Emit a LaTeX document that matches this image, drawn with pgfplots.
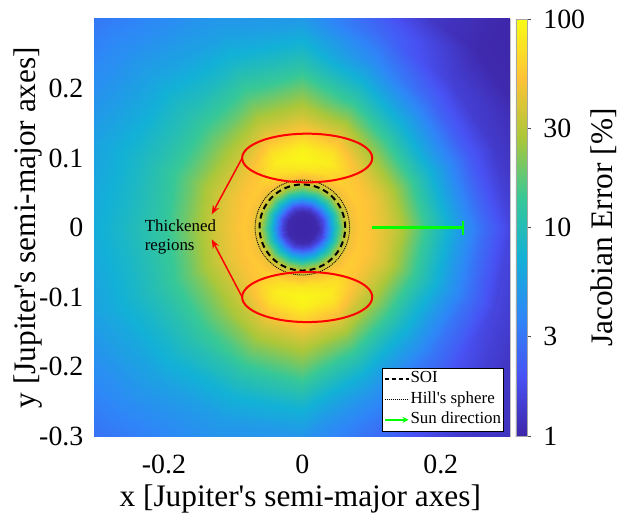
\documentclass[border=0pt]{standalone}
\usepackage{fontspec}
\setmainfont{Liberation Serif}
\usepackage{pgfplots}
\pgfplotsset{compat=1.18}
\usetikzlibrary{arrows.meta}

\pgfplotsset{
  colormap={parula}{
    rgb255=(62,38,168) rgb255=(72,82,244) rgb255=(46,135,247) rgb255=(18,177,214)
    rgb255=(55,200,151) rgb255=(171,199,57) rgb255=(254,195,56) rgb255=(249,251,21)
  }
}
\newcommand{\tickfont}{\fontsize{28}{30}\selectfont}
\newcommand{\labfont}{\fontsize{31.5}{33}\selectfont}
\newcommand{\smallfont}{\fontsize{17}{19}\selectfont}

\begin{document}
\begin{tikzpicture}
\begin{axis}[
  width=416bp, height=418bp, scale only axis,
  xmin=-0.3, xmax=0.3, ymin=-0.3, ymax=0.3,
  enlargelimits=false,
  axis line style={black!25, line width=0.6bp},
  major tick length=0pt,
  xtick={-0.2,0,0.2}, xticklabels={-0.2,0,0.2},
  ytick={-0.3,-0.2,-0.1,0,0.1,0.2}, yticklabels={-0.3,-0.2,-0.1,0,0.1,0.2},
  tick label style={font=\tickfont},
  xticklabel style={yshift=-15bp},
  yticklabel style={xshift=-8bp},
  xlabel={x [Jupiter\textquotesingle s semi-major axes]},
  ylabel={y [Jupiter\textquotesingle s semi-major axes]},
  xlabel style={font=\labfont, at={(axis description cs:0.495,-0.151)}, anchor=center},
  ylabel style={font=\labfont, at={(axis description cs:-0.16,0.5)}, anchor=center, rotate=0},
  colormap name=parula,
  point meta min=0, point meta max=2,
  colorbar,
  colorbar shift/.style={xshift=6bp},
  colorbar style={
    width=11bp,
    at={(parent axis.north east)}, anchor=north west,
    ytick={0,0.47712,1,1.47712,2},
    yticklabels={1,3,10,30,100},
    ytick pos=right,
    tick align=outside,
    major tick length=4bp,
    tick style={black!70},
    axis line style={black!35},
    yticklabel style={font=\tickfont, xshift=9bp},
    ylabel={Jacobian Error [\%]},
    ylabel style={font=\labfont, at={(axis description cs:8.0,0.5)}, anchor=center},
  },
  legend cell align=left,
  legend style={
    at={(axis description cs:1,0)}, anchor=south east, xshift=-6bp, yshift=5bp,
    draw=black, line width=0.6bp, fill=white, font=\smallfont,
    inner xsep=1.5bp, inner ysep=1.5bp, row sep=1.5bp,
    nodes={inner xsep=1bp, inner ysep=1.5bp, text height=12bp, text depth=4bp},
  },
  legend image code/.code={\draw[#1] (0bp,0bp) -- (24bp,0bp);},
]

% error field on a polar grid: angle (deg), radius, error (%)
\addplot[surf, shader=interp, mesh/cols=21, point meta={log10(\thisrow{v})}, forget plot]
  table[x expr={\thisrow{r}*cos(\thisrow{a})}, y expr={\thisrow{r}*sin(\thisrow{a})}, row sep=\\] {
a r v\\
0 0 1\\ 0 0.012 1\\ 0 0.022 1.05\\ 0 0.03 1.6\\ 0 0.038 3.8\\ 0 0.046 8.5\\ 0 0.054 17\\ 0 0.062 30\\ 0 0.07 45\\
0 0.085 55\\ 0 0.1 50\\ 0 0.115 43\\ 0 0.13 36\\ 0 0.15 25\\ 0 0.175 15\\ 0 0.2 9\\ 0 0.23 5\\ 0 0.26 2.8\\ 0 0.3 1.6\\ 0 0.36 1.2\\ 0 0.43 1.0\\
22.5 0 1\\ 22.5 0.012 1\\ 22.5 0.022 1.05\\ 22.5 0.03 1.6\\ 22.5 0.038 3.8\\ 22.5 0.046 8.5\\ 22.5 0.054 17\\ 22.5 0.062 30\\ 22.5 0.07 45\\
22.5 0.085 56\\ 22.5 0.1 52\\ 22.5 0.115 44\\ 22.5 0.13 35\\ 22.5 0.15 23\\ 22.5 0.175 13\\ 22.5 0.2 7.5\\ 22.5 0.23 4\\ 22.5 0.26 2.2\\ 22.5 0.3 1.35\\ 22.5 0.36 1.05\\ 22.5 0.43 1.0\\
45 0 1\\ 45 0.012 1\\ 45 0.022 1.05\\ 45 0.03 1.6\\ 45 0.038 3.8\\ 45 0.046 8.5\\ 45 0.054 17\\ 45 0.062 30\\ 45 0.07 45\\
45 0.085 58\\ 45 0.1 55\\ 45 0.115 45\\ 45 0.13 35\\ 45 0.15 23\\ 45 0.175 13.5\\ 45 0.2 8\\ 45 0.23 4.4\\ 45 0.26 2.5\\ 45 0.3 1.5\\ 45 0.36 1.05\\ 45 0.43 1.0\\
67.5 0 1\\ 67.5 0.012 1\\ 67.5 0.022 1.05\\ 67.5 0.03 1.6\\ 67.5 0.038 3.8\\ 67.5 0.046 8.5\\ 67.5 0.054 17\\ 67.5 0.062 30\\ 67.5 0.07 45\\
67.5 0.085 70\\ 67.5 0.1 85\\ 67.5 0.115 75\\ 67.5 0.13 55\\ 67.5 0.15 35\\ 67.5 0.175 20\\ 67.5 0.2 12\\ 67.5 0.23 7\\ 67.5 0.26 4.2\\ 67.5 0.3 2.6\\ 67.5 0.36 1.5\\ 67.5 0.43 1.1\\
90 0 1\\ 90 0.012 1\\ 90 0.022 1.05\\ 90 0.03 1.6\\ 90 0.038 3.8\\ 90 0.046 8.5\\ 90 0.054 17\\ 90 0.062 30\\ 90 0.07 45\\
90 0.085 80\\ 90 0.1 95\\ 90 0.115 88\\ 90 0.13 65\\ 90 0.15 43\\ 90 0.175 28\\ 90 0.2 19\\ 90 0.23 12\\ 90 0.26 8\\ 90 0.3 5\\ 90 0.36 3.5\\ 90 0.43 2.5\\
112.5 0 1\\ 112.5 0.012 1\\ 112.5 0.022 1.05\\ 112.5 0.03 1.6\\ 112.5 0.038 3.8\\ 112.5 0.046 8.5\\ 112.5 0.054 17\\ 112.5 0.062 30\\ 112.5 0.07 45\\
112.5 0.085 70\\ 112.5 0.1 85\\ 112.5 0.115 75\\ 112.5 0.13 55\\ 112.5 0.15 38\\ 112.5 0.175 25\\ 112.5 0.2 17\\ 112.5 0.23 11.5\\ 112.5 0.26 8\\ 112.5 0.3 5.5\\ 112.5 0.36 4\\ 112.5 0.43 3\\
135 0 1\\ 135 0.012 1\\ 135 0.022 1.05\\ 135 0.03 1.6\\ 135 0.038 3.8\\ 135 0.046 8.5\\ 135 0.054 17\\ 135 0.062 30\\ 135 0.07 45\\
135 0.085 57\\ 135 0.1 52\\ 135 0.115 45\\ 135 0.13 37\\ 135 0.15 28\\ 135 0.175 20\\ 135 0.2 14.5\\ 135 0.23 10.5\\ 135 0.26 8.3\\ 135 0.3 6\\ 135 0.36 4.2\\ 135 0.43 3.0\\
157.5 0 1\\ 157.5 0.012 1\\ 157.5 0.022 1.05\\ 157.5 0.03 1.6\\ 157.5 0.038 3.8\\ 157.5 0.046 8.5\\ 157.5 0.054 17\\ 157.5 0.062 30\\ 157.5 0.07 45\\
157.5 0.085 55\\ 157.5 0.1 49\\ 157.5 0.115 43\\ 157.5 0.13 36\\ 157.5 0.15 27\\ 157.5 0.175 19\\ 157.5 0.2 14\\ 157.5 0.23 10.5\\ 157.5 0.26 8.3\\ 157.5 0.3 6.5\\ 157.5 0.36 4.7\\ 157.5 0.43 3.5\\
180 0 1\\ 180 0.012 1\\ 180 0.022 1.05\\ 180 0.03 1.6\\ 180 0.038 3.8\\ 180 0.046 8.5\\ 180 0.054 17\\ 180 0.062 30\\ 180 0.07 45\\
180 0.085 55\\ 180 0.1 48\\ 180 0.115 42\\ 180 0.13 35\\ 180 0.15 26\\ 180 0.175 18\\ 180 0.2 13\\ 180 0.23 10.5\\ 180 0.26 8.5\\ 180 0.3 6.8\\ 180 0.36 5\\ 180 0.43 3.8\\
202.5 0 1\\ 202.5 0.012 1\\ 202.5 0.022 1.05\\ 202.5 0.03 1.6\\ 202.5 0.038 3.8\\ 202.5 0.046 8.5\\ 202.5 0.054 17\\ 202.5 0.062 30\\ 202.5 0.07 45\\
202.5 0.085 55\\ 202.5 0.1 49\\ 202.5 0.115 43\\ 202.5 0.13 36\\ 202.5 0.15 27\\ 202.5 0.175 19\\ 202.5 0.2 14\\ 202.5 0.23 10.5\\ 202.5 0.26 8.3\\ 202.5 0.3 6.5\\ 202.5 0.36 4.7\\ 202.5 0.43 3.5\\
225 0 1\\ 225 0.012 1\\ 225 0.022 1.05\\ 225 0.03 1.6\\ 225 0.038 3.8\\ 225 0.046 8.5\\ 225 0.054 17\\ 225 0.062 30\\ 225 0.07 45\\
225 0.085 57\\ 225 0.1 52\\ 225 0.115 45\\ 225 0.13 37\\ 225 0.15 28\\ 225 0.175 20\\ 225 0.2 14.5\\ 225 0.23 10.5\\ 225 0.26 8\\ 225 0.3 5.8\\ 225 0.36 4\\ 225 0.43 2.8\\
247.5 0 1\\ 247.5 0.012 1\\ 247.5 0.022 1.05\\ 247.5 0.03 1.6\\ 247.5 0.038 3.8\\ 247.5 0.046 8.5\\ 247.5 0.054 17\\ 247.5 0.062 30\\ 247.5 0.07 45\\
247.5 0.085 70\\ 247.5 0.1 85\\ 247.5 0.115 75\\ 247.5 0.13 55\\ 247.5 0.15 38\\ 247.5 0.175 25\\ 247.5 0.2 17\\ 247.5 0.23 11\\ 247.5 0.26 7.5\\ 247.5 0.3 5.2\\ 247.5 0.36 3.8\\ 247.5 0.43 2.8\\
270 0 1\\ 270 0.012 1\\ 270 0.022 1.05\\ 270 0.03 1.6\\ 270 0.038 3.8\\ 270 0.046 8.5\\ 270 0.054 17\\ 270 0.062 30\\ 270 0.07 45\\
270 0.085 80\\ 270 0.1 95\\ 270 0.115 88\\ 270 0.13 65\\ 270 0.15 43\\ 270 0.175 28\\ 270 0.2 19\\ 270 0.23 12\\ 270 0.26 7.5\\ 270 0.3 4.7\\ 270 0.36 3.2\\ 270 0.43 2.3\\
292.5 0 1\\ 292.5 0.012 1\\ 292.5 0.022 1.05\\ 292.5 0.03 1.6\\ 292.5 0.038 3.8\\ 292.5 0.046 8.5\\ 292.5 0.054 17\\ 292.5 0.062 30\\ 292.5 0.07 45\\
292.5 0.085 70\\ 292.5 0.1 85\\ 292.5 0.115 75\\ 292.5 0.13 55\\ 292.5 0.15 35\\ 292.5 0.175 20\\ 292.5 0.2 12\\ 292.5 0.23 7\\ 292.5 0.26 4.5\\ 292.5 0.3 3\\ 292.5 0.36 1.9\\ 292.5 0.43 1.3\\
315 0 1\\ 315 0.012 1\\ 315 0.022 1.05\\ 315 0.03 1.6\\ 315 0.038 3.8\\ 315 0.046 8.5\\ 315 0.054 17\\ 315 0.062 30\\ 315 0.07 45\\
315 0.085 58\\ 315 0.1 55\\ 315 0.115 45\\ 315 0.13 35\\ 315 0.15 24\\ 315 0.175 14\\ 315 0.2 8.5\\ 315 0.23 5\\ 315 0.26 3.1\\ 315 0.3 2\\ 315 0.36 1.4\\ 315 0.43 1.2\\
337.5 0 1\\ 337.5 0.012 1\\ 337.5 0.022 1.05\\ 337.5 0.03 1.6\\ 337.5 0.038 3.8\\ 337.5 0.046 8.5\\ 337.5 0.054 17\\ 337.5 0.062 30\\ 337.5 0.07 45\\
337.5 0.085 56\\ 337.5 0.1 52\\ 337.5 0.115 44\\ 337.5 0.13 36\\ 337.5 0.15 24\\ 337.5 0.175 14\\ 337.5 0.2 8.5\\ 337.5 0.23 4.8\\ 337.5 0.26 2.8\\ 337.5 0.3 1.6\\ 337.5 0.36 1.2\\ 337.5 0.43 1.1\\
360 0 1\\ 360 0.012 1\\ 360 0.022 1.05\\ 360 0.03 1.6\\ 360 0.038 3.8\\ 360 0.046 8.5\\ 360 0.054 17\\ 360 0.062 30\\ 360 0.07 45\\
360 0.085 55\\ 360 0.1 50\\ 360 0.115 43\\ 360 0.13 36\\ 360 0.15 25\\ 360 0.175 15\\ 360 0.2 9\\ 360 0.23 5\\ 360 0.26 2.8\\ 360 0.3 1.6\\ 360 0.36 1.2\\ 360 0.43 1.0\\
};

% sun direction
\addplot[green, line width=3bp, -{Bar[width=14bp, line width=2bp]}, forget plot]
  coordinates {(0.1,0) (0.234,0)};

% SOI and Hill's sphere
\draw[black, line width=2bp, dash pattern=on 6bp off 4bp] (axis cs:0,0) circle[radius=0.0619];
\draw[black, line width=0.9bp, dash pattern=on 1bp off 1bp] (axis cs:0,0) circle[radius=0.0683];

% thickened regions
\draw[red, line width=2bp] (axis cs:0.007,0.1) ellipse[x radius=0.094, y radius=0.035];
\draw[red, line width=2bp] (axis cs:0.007,-0.1) ellipse[x radius=0.094, y radius=0.036];
\draw[red, line width=1.5bp, -{Stealth[length=9bp, width=7bp]}] (axis cs:-0.087,0.1) -- (axis cs:-0.131,0.019);
\draw[red, line width=1.5bp, -{Stealth[length=9bp, width=7bp]}] (axis cs:-0.087,-0.1) -- (axis cs:-0.131,-0.017);
\node[anchor=west, align=left, inner sep=0pt, font=\smallfont] at (axis cs:-0.228,-0.014) {Thickened\\regions};

\addlegendimage{black, line width=1.2bp, dash pattern=on 4bp off 3bp}
\addlegendentry{SOI}
\addlegendimage{black, line width=0.8bp, dash pattern=on 1bp off 1bp}
\addlegendentry{Hill\textquotesingle s sphere}
\addlegendimage{green, line width=2bp, -{Stealth[length=6bp, width=6bp]}}
\addlegendentry{Sun direction}
\end{axis}
\path (current axis.south west) ++(-95bp,-79bp) rectangle ++(620bp,516bp);
\end{tikzpicture}
\end{document}
